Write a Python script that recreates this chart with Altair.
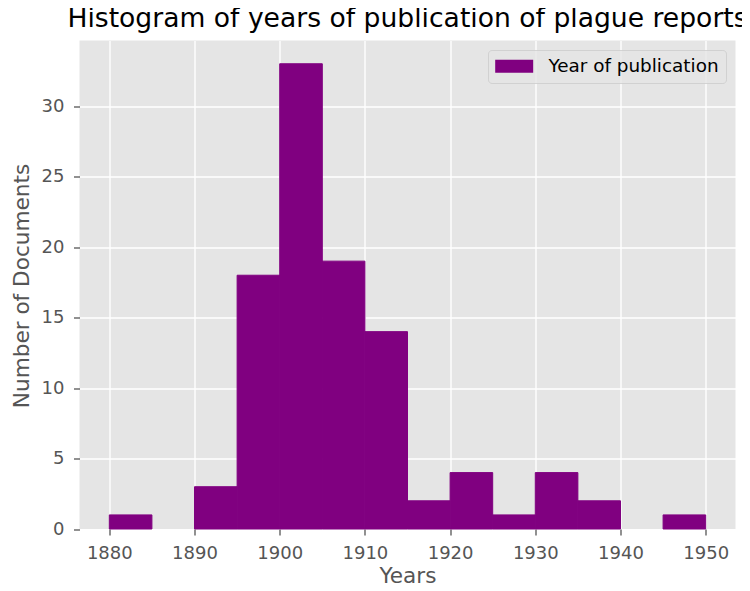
import altair as alt
import pandas as pd

# ---- data ----
bin_start = [1880, 1885, 1890, 1895, 1900, 1905, 1910, 1915, 1920, 1925, 1930, 1935, 1940, 1945]
counts = [1, 0, 3, 18, 33, 19, 14, 2, 4, 1, 4, 2, 0, 1]
bin_width = 5
series_name = "Year of publication"
x_ticks = [1880, 1890, 1900, 1910, 1920, 1930, 1940, 1950]
y_ticks = [0, 5, 10, 15, 20, 25, 30]

df = pd.DataFrame({
    "start": bin_start,
    "end": [s + bin_width for s in bin_start],
    "count": counts,
    "series": [series_name] * len(bin_start),
})

FONT = "DejaVu Sans"
PURPLE = "#800080"

bars = alt.Chart(df).transform_filter(
    "datum.count > 0"
).mark_bar(stroke=PURPLE, strokeWidth=1).encode(
    x=alt.X(
        "start:Q",
        scale=alt.Scale(domain=[1876.5, 1953.5], nice=False, zero=False),
        axis=alt.Axis(values=x_ticks, format="d", title="Years",
                      titleBaseline="alphabetic", titleY=53.5),
    ),
    x2="end:Q",
    y=alt.Y(
        "count:Q",
        scale=alt.Scale(domain=[0, 34.65], nice=False),
        axis=alt.Axis(values=y_ticks, title="Number of Documents",
                      titleAngle=270, titleBaseline="alphabetic",
                      titleX=-51, titleY=245, titleAlign="center"),
    ),
    y2=alt.datum(0),
    color=alt.Color(
        "series:N",
        scale=alt.Scale(range=[PURPLE]),
        legend=alt.Legend(
            title=None, orient="none", legendX=408.5, legendY=9.5,
            symbolType="M-1,-0.72H3.22V0.72H-1Z", symbolSize=324,
            symbolStrokeWidth=0, symbolOpacity=1,
            labelFont=FONT, labelFontSize=18.4, labelColor="black",
            labelOffset=35, labelLimit=400, padding=7,
            fillColor="rgba(229,229,229,0.8)",
            strokeColor="rgba(204,204,204,0.8)", cornerRadius=3.6,
        ),
    ),
)

chart = bars.properties(
    width=656,
    height=488.5,
    title=alt.TitleParams(
        "Histogram of years of publication of plague reports",
        font=FONT, fontSize=26.6, fontWeight="normal", color="black",
        anchor="middle", frame="group", offset=11, dy=24.5, baseline="alphabetic",
    ),
    autosize=alt.AutoSizeParams(type="none"),
    padding={"left": 71.5, "top": 32.5, "right": 6.5, "bottom": 54},
).configure_view(
    fill="#E5E5E5", stroke=None,
).configure_axis(
    domain=False,
    grid=True, gridColor="white", gridWidth=1.4,
    ticks=True, tickColor="#555555", tickSize=6, tickWidth=1.3,
    labelFont=FONT, labelFontSize=18, labelColor="#555555", labelPadding=9.5,
    titleFont=FONT, titleFontSize=21.6, titleColor="#555555", titleFontWeight="normal",
)

chart.save("out.html", embed_options={"renderer": "svg", "actions": False})
